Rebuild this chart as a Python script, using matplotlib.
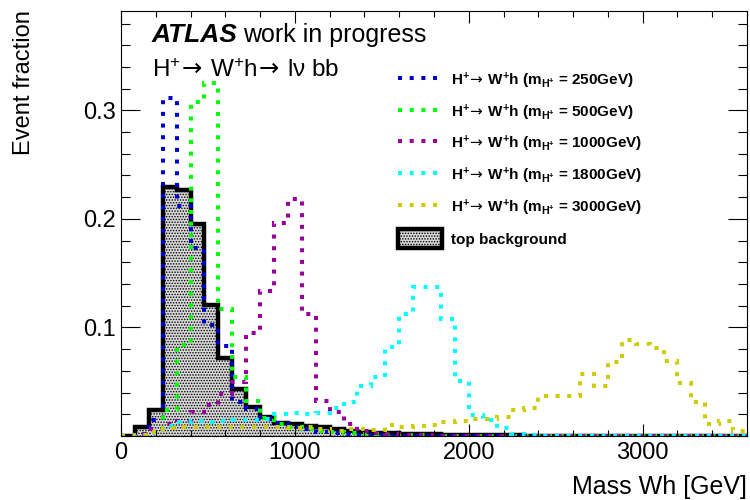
import numpy as np
import matplotlib
matplotlib.use("Agg")
import matplotlib.pyplot as plt
from matplotlib.lines import Line2D
from matplotlib.patches import Patch
from matplotlib.ticker import MultipleLocator, FixedLocator

plt.rcParams['font.family'] = ['Liberation Sans', 'DejaVu Sans']
plt.rcParams['mathtext.fontset'] = 'custom'
plt.rcParams['mathtext.rm'] = 'Liberation Sans'
plt.rcParams['mathtext.bf'] = 'Liberation Sans:bold'
plt.rcParams['mathtext.sf'] = 'DejaVu Sans'   # only used for the arrows
plt.rcParams['mathtext.default'] = 'regular'
plt.rcParams['hatch.linewidth'] = 0.7

# 45 bins of 80 GeV, 0 - 3600 GeV
edges = np.arange(0, 3601, 80)

bkg_top = [0.000, 0.008, 0.024, 0.229, 0.227, 0.195, 0.121, 0.072, 0.043, 0.027,
           0.0175, 0.012, 0.011, 0.009, 0.008, 0.006, 0.005, 0.004, 0.003, 0.003,
           0.002, 0.002, 0.0015, 0.001, 0.001, 0.001, 0.0005, 0.0005, 0.0005, 0,
           0, 0, 0, 0, 0, 0, 0, 0, 0, 0,
           0, 0, 0, 0, 0]

sig_250 = [0.000, 0.002, 0.015, 0.311, 0.212, 0.173, 0.102, 0.083, 0.031, 0.025,
           0.016, 0.012, 0.008, 0.006, 0.004, 0.003, 0.002, 0.001, 0.001, 0,
           0, 0, 0, 0, 0, 0, 0, 0, 0, 0,
           0, 0, 0, 0, 0, 0, 0, 0, 0, 0,
           0, 0, 0, 0, 0]

sig_500 = [0.000, 0.001, 0.006, 0.024, 0.084, 0.308, 0.325, 0.117, 0.054, 0.032,
           0.017, 0.011, 0.008, 0.006, 0.005, 0.004, 0.003, 0.002, 0.002, 0.001,
           0.001, 0.0005, 0, 0, 0, 0, 0, 0, 0, 0,
           0, 0, 0, 0, 0, 0, 0, 0, 0, 0,
           0, 0, 0, 0, 0]

sig_1000 = [0.000, 0.002, 0.006, 0.011, 0.014, 0.022, 0.029, 0.039, 0.050, 0.095,
            0.134, 0.196, 0.218, 0.112, 0.032, 0.022, 0.011, 0.005, 0.003, 0.002,
            0.001, 0.001, 0.0005, 0, 0, 0, 0, 0, 0, 0,
            0, 0, 0, 0, 0, 0, 0, 0, 0, 0,
            0, 0, 0, 0, 0]

sig_1800 = [0.000, 0.001, 0.003, 0.009, 0.013, 0.014, 0.013, 0.014, 0.015, 0.015,
            0.016, 0.020, 0.021, 0.020, 0.021, 0.026, 0.031, 0.046, 0.054, 0.082,
            0.112, 0.137, 0.137, 0.108, 0.051, 0.019, 0.015, 0.007, 0.002, 0.001,
            0, 0, 0, 0, 0, 0, 0, 0, 0, 0,
            0, 0, 0, 0, 0]

sig_3000 = [0.000, 0.001, 0.004, 0.007, 0.008, 0.008, 0.008, 0.008, 0.008, 0.008,
            0.008, 0.008, 0.007, 0.008, 0.006, 0.005, 0.0065, 0.0065, 0.0055, 0.010,
            0.008, 0.0095, 0.010, 0.013, 0.0135, 0.016, 0.016, 0.0175, 0.024, 0.026,
            0.037, 0.037, 0.037, 0.057, 0.046, 0.068, 0.088, 0.085, 0.081, 0.069,
            0.049, 0.031, 0.011, 0.014, 0.005]

signals = [
    (sig_250, '#0000cc', '250GeV'),
    (sig_500, '#00ff00', '500GeV'),
    (sig_1000, '#990099', '1000GeV'),
    (sig_1800, '#00ffff', '1800GeV'),
    (sig_3000, '#cccc00', '3000GeV'),
]

ARROW = r'$\!\mathsf{\rightarrow}\,$'
dots = (0, (1, 1.9))
bkg_face = '#d8d8d8'

fig = plt.figure(figsize=(7.5, 5), dpi=100)
ax = fig.add_axes([0.1613, 0.128, 0.8347, 0.851])

# background: hatched fill + thick outline
ax.stairs(bkg_top, edges, fill=True, facecolor=bkg_face, edgecolor='black',
          linewidth=0, hatch='......')
ax.stairs(bkg_top, edges, color='black', linewidth=3.2)

handles = []
for vals, col, mass in signals:
    ax.stairs(vals, edges, color=col, linewidth=2.9, linestyle=dots)
    handles.append(Line2D([], [], color=col, linewidth=2.9, linestyle=dots,
                          label='H$^{+}$' + ARROW + 'W$^{+}$h (m$_{H^{+}}$ = ' + mass + ')'))
handles.append(Patch(facecolor=bkg_face, edgecolor='black', hatch='......',
                     linewidth=3.2, label='top background'))

ax.set_xlim(0, 3600)
ax.set_ylim(0, 0.392)

ax.xaxis.set_major_locator(MultipleLocator(1000))
ax.xaxis.set_minor_locator(MultipleLocator(200))
ax.yaxis.set_major_locator(FixedLocator([0.1, 0.2, 0.3]))
ax.yaxis.set_minor_locator(MultipleLocator(0.02))

ax.tick_params(which='both', direction='in', top=True, right=True, width=0.8,
               labelsize=17, pad=4)
ax.tick_params(axis='x', which='major', length=8.6)
ax.tick_params(axis='x', which='minor', length=4.3)
ax.tick_params(axis='y', which='major', length=13.4)
ax.tick_params(axis='y', which='minor', length=6.3)
for s in ax.spines.values():
    s.set_linewidth(0.8)

ax.set_xlabel('Mass Wh [GeV]', fontsize=18, loc='right')
ax.xaxis.set_label_coords(1.0, -0.092)
ax.set_ylabel('Event fraction', fontsize=17, loc='top')
ax.yaxis.set_label_coords(-0.137, 1.0)

ax.text(0.049, 0.926, 'ATLAS', transform=ax.transAxes, fontsize=19,
        fontweight='bold', fontstyle='italic', va='baseline')
ax.text(0.195, 0.926, 'work in progress', transform=ax.transAxes, fontsize=18,
        va='baseline')
ax.text(0.049, 0.844, 'H$^{+}$' + ARROW + 'W$^{+}$h' + ARROW + 'l\u03bd bb',
        transform=ax.transAxes, fontsize=17.5, va='baseline')

ax.legend(handles=handles, loc='upper left', bbox_to_anchor=(0.4425, 0.858),
          frameon=False, prop={'size': 11, 'weight': 'bold'},
          handlelength=2.9, handleheight=1.55, handletextpad=0.55,
          labelspacing=0.74, borderpad=0, borderaxespad=0)

fig.savefig('out.png', dpi=100)
